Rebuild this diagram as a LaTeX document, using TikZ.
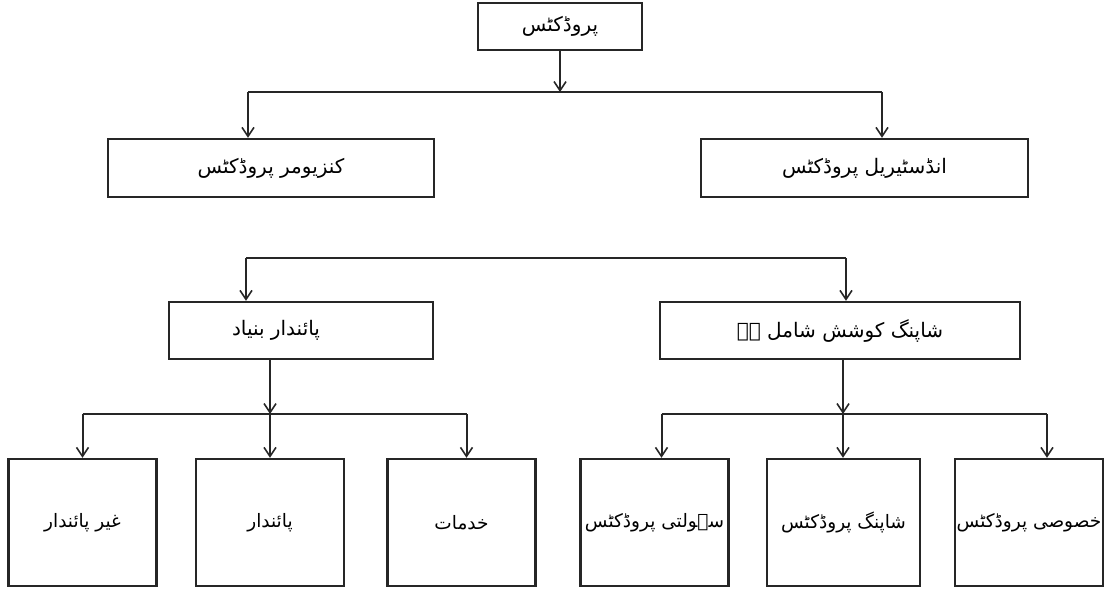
\documentclass[tikz,border=0pt]{standalone}
\usepackage{fontspec}
\usetikzlibrary{arrows.meta,calc}
\newfontfamily\urdufont[Script=Arabic]{DejaVu Sans}
\TeXXeTstate=1
\newcommand{\urtxt}[1]{{\urdufont\beginR #1\endR}}

\begin{document}
\begin{tikzpicture}[x=1pt, y=-1pt,
    box/.style={rectangle, draw=black!85, line width=2.4pt, inner sep=0pt, font=\fontsize{20}{24}\selectfont},
    leaf/.style={box, minimum width=148pt, minimum height=127pt, font=\fontsize{18.5}{22}\selectfont},
    arrow/.style={-{Straight Barb[length=9pt,width=12pt,line width=1.6pt]}, line width=2pt, draw=black!85},
    link/.style={line width=2pt, draw=black!85}
]
    \useasboundingbox (0,0) rectangle (1107,591);

    % top levels
    \node[box, minimum width=164pt, minimum height=47pt] (prod) at (560,26.5) {\urtxt{پروڈکٹس}};
    \node[box, minimum width=326pt, minimum height=58pt] (cons) at (271,168) {\urtxt{کنزیومر پروڈکٹس}};
    \node[box, minimum width=327pt, minimum height=58pt] (ind) at (864.5,168) {\urtxt{انڈسٹیریل پروڈکٹس}};
    \node[box, minimum width=264pt, minimum height=57pt] (base) at (301,330.5) {\urtxt{پائندار بنیاد}\hspace*{50pt}};
    \node[box, minimum width=360pt, minimum height=57pt] (shop) at (840,330.5) {\urtxt{شاپنگ کوشش شامل ہے}};

    % leaves
    \node[leaf] (nondur) at (82.5,522.5) {\urtxt{غیر پائندار}};
    \node[leaf] (dur) at (270,522.5) {\urtxt{پائندار}};
    \node[leaf] (serv) at (461.5,522.5) {\urtxt{خدمات}};
    \node[leaf] (conv) at (654.5,522.5) {\urtxt{سہولتی پروڈکٹس}};
    \node[leaf, minimum width=153pt] (shopg) at (843.5,522.5) {\urtxt{شاپنگ پروڈکٹس}};
    \node[leaf] (spec) at (1029,522.5) {\urtxt{خصوصی پروڈکٹس}};

    % junctions
    \coordinate (j1) at (560,92);
    \coordinate (j1l) at (248,92);
    \coordinate (j1r) at (882,92);
    \coordinate (j2l) at (246,258);
    \coordinate (j2r) at (846,258);
    \coordinate (j3) at (270,414);
    \coordinate (j4) at (843,414);

    \draw[arrow] (prod.south) -- (j1);
    \draw[link] (j1l) -- (j1r);
    \draw[arrow] (j1l) -- (j1l |- cons.north);
    \draw[arrow] (j1r) -- (j1r |- ind.north);

    \draw[link] (j2l) -- (j2r);
    \draw[arrow] (j2l) -- (j2l |- base.north);
    \draw[arrow] (j2r) -- (j2r |- shop.north);

    \draw[arrow] (j3 |- base.south) -- (j3);
    \draw[link] (nondur.north |- j3) -- ([xshift=5pt]serv.north |- j3);
    \draw[arrow] (nondur.north |- j3) -- (nondur.north);
    \draw[arrow] (j3) -- (dur.north);
    \draw[arrow] ([xshift=5pt]serv.north |- j3) -- ([xshift=5pt]serv.north);

    \draw[arrow] (j4 |- shop.south) -- (j4);
    \draw[link] ([xshift=7pt]conv.north |- j4) -- ([xshift=18pt]spec.north |- j4);
    \draw[arrow] ([xshift=7pt]conv.north |- j4) -- ([xshift=7pt]conv.north);
    \draw[arrow] (j4) -- (j4 |- shopg.north);
    \draw[arrow] ([xshift=18pt]spec.north |- j4) -- ([xshift=18pt]spec.north);
\end{tikzpicture}
\end{document}
